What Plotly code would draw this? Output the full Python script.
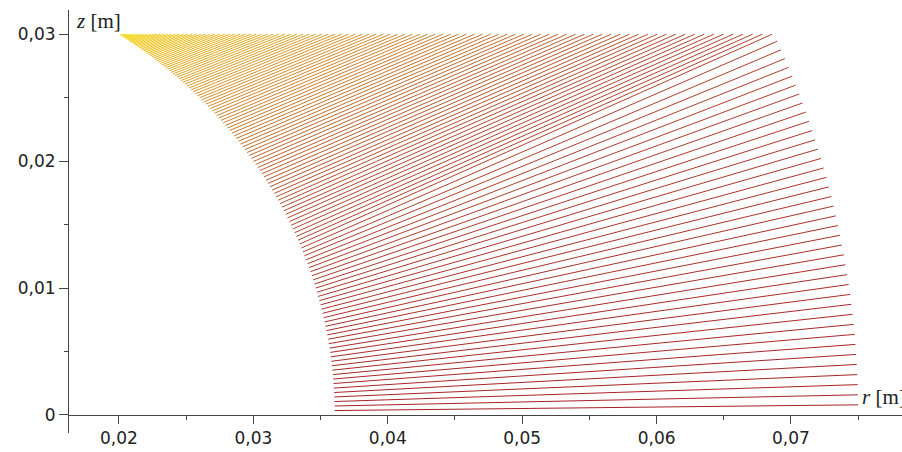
import plotly.graph_objects as go

# Line end points, in units of 0.01 mm (1e-5 m).
# Start points lie on the inner boundary, end points on the outer boundary.
R_START = [3605, 3605, 3604, 3603, 3601, 3599, 3597, 3594, 3592, 3588, 3585, 3581, 3576, 3572, 3567, 3561, 3556, 3550, 3544, 3537, 3530, 3523, 3515, 3508,
           3500, 3491, 3482, 3473, 3464, 3455, 3445, 3435, 3424, 3414, 3403, 3392, 3380, 3369, 3357, 3345, 3332, 3320, 3307, 3294, 3281, 3268, 3254, 3241,
           3227, 3212, 3198, 3184, 3169, 3155, 3140, 3125, 3110, 3095, 3079, 3064, 3048, 3033, 3017, 3001, 2985, 2969, 2953, 2937, 2921, 2905, 2889, 2873,
           2857, 2840, 2824, 2808, 2792, 2775, 2759, 2743, 2727, 2711, 2694, 2678, 2662, 2646, 2631, 2615, 2599, 2583, 2568, 2552, 2537, 2522, 2506, 2491,
           2476, 2461, 2447, 2432, 2418, 2403, 2389, 2375, 2361, 2348, 2334, 2321, 2308, 2294, 2282, 2269, 2256, 2244, 2232, 2220, 2208, 2197, 2186, 2175,
           2164, 2153, 2142, 2132, 2122, 2112, 2103, 2093, 2084, 2076, 2067, 2058, 2050, 2042, 2035, 2027, 2020, 2013, 2006]
Z_START = [35, 71, 106, 142, 177, 212, 248, 283, 318, 353, 388, 423, 458, 493, 527, 562, 597, 631, 665, 699, 733, 767, 801, 834,
           868, 901, 934, 967, 1000, 1032, 1065, 1097, 1129, 1161, 1192, 1223, 1255, 1285, 1316, 1347, 1377, 1407, 1436, 1466, 1495, 1524, 1553, 1581,
           1609, 1637, 1665, 1692, 1719, 1746, 1772, 1799, 1825, 1850, 1876, 1901, 1926, 1950, 1974, 1998, 2022, 2045, 2068, 2091, 2113, 2135, 2157, 2179,
           2200, 2221, 2242, 2262, 2282, 2302, 2321, 2340, 2359, 2378, 2396, 2414, 2431, 2449, 2466, 2483, 2499, 2515, 2531, 2547, 2562, 2577, 2592, 2607,
           2621, 2635, 2648, 2662, 2675, 2688, 2700, 2713, 2725, 2737, 2748, 2759, 2770, 2781, 2792, 2802, 2812, 2822, 2832, 2841, 2850, 2859, 2868, 2876,
           2884, 2892, 2900, 2908, 2915, 2922, 2929, 2936, 2942, 2948, 2954, 2960, 2966, 2971, 2977, 2982, 2987, 2991, 2996]
R_END = [7500, 7498, 7496, 7493, 7489, 7485, 7479, 7473, 7466, 7458, 7449, 7440, 7429, 7418, 7406, 7393, 7379, 7365, 7350, 7334, 7317, 7300, 7282, 7263,
         7243, 7223, 7202, 7180, 7157, 7134, 7110, 7086, 7061, 7035, 7009, 6982, 6954, 6926, 6898, 6860, 6787, 6714, 6642, 6569, 6497, 6426, 6354, 6283,
         6213, 6143, 6073, 6004, 5935, 5866, 5798, 5730, 5662, 5595, 5529, 5463, 5397, 5332, 5267, 5202, 5138, 5075, 5012, 4950, 4888, 4826, 4765, 4705,
         4645, 4585, 4526, 4468, 4410, 4352, 4295, 4239, 4183, 4128, 4074, 4019, 3966, 3913, 3861, 3809, 3758, 3707, 3657, 3608, 3559, 3510, 3463, 3416,
         3370, 3324, 3279, 3234, 3190, 3147, 3104, 3062, 3021, 2981, 2941, 2901, 2862, 2824, 2787, 2750, 2714, 2679, 2644, 2610, 2577, 2544, 2512, 2481,
         2450, 2420, 2391, 2362, 2335, 2307, 2281, 2255, 2230, 2206, 2182, 2159, 2137, 2115, 2094, 2074, 2054, 2036, 2017]
Z_END = [80, 159, 239, 318, 398, 477, 556, 635, 714, 793, 872, 950, 1028, 1106, 1184, 1262, 1339, 1416, 1493, 1569, 1646, 1721, 1797, 1872,
         1946, 2021, 2095, 2168, 2241, 2314, 2386, 2458, 2529, 2599, 2670, 2739, 2808, 2877, 2945] + [3000] * 100

x_ticks = [0.02, 0.03, 0.04, 0.05, 0.06, 0.07]
x_text = ["0,02", "0,03", "0,04", "0,05", "0,06", "0,07"]
y_ticks = [0, 0.01, 0.02, 0.03]
y_text = ["0", "0,01", "0,02", "0,03"]

UNIT = 1e-5
STOPS = [(0.0, (165, 32, 40)), (0.35, (178, 72, 45)), (0.65, (212, 150, 40)), (1.0, (250, 222, 8))]


def colour(t):
    for (t0, c0), (t1, c1) in zip(STOPS[:-1], STOPS[1:]):
        if t <= t1:
            f = (t - t0) / (t1 - t0)
            return "rgb(%d,%d,%d)" % tuple(int(round(a + (b - a) * f)) for a, b in zip(c0, c1))
    return "rgb(%d,%d,%d)" % STOPS[-1][1]


fig = go.Figure()
n = len(R_START)
for i in range(n):
    fig.add_trace(go.Scatter(
        x=[R_START[i] * UNIT, R_END[i] * UNIT],
        y=[Z_START[i] * UNIT, Z_END[i] * UNIT],
        mode="lines", line=dict(color=colour((i + 1) / (n + 1)), width=1),
        hoverinfo="skip", showlegend=False))

axcol = "#444444"
fig.update_layout(
    width=902, height=452,
    separators=", ",
    margin=dict(l=69, r=0, t=10, b=19),
    plot_bgcolor="white", paper_bgcolor="white",
    xaxis=dict(range=[0.016283, 0.07826], tickmode="array", tickvals=x_ticks, ticktext=x_text,
               showgrid=False, zeroline=False, showline=True, linecolor=axcol,
               linewidth=1, ticks="outside", ticklen=8, tickcolor=axcol,
               anchor="free", position=0.04255, automargin=False,
               tickfont=dict(family="DejaVu Sans", size=17, color="#222"),
               minor=dict(tickmode="linear", tick0=0, dtick=0.005, ticks="outside",
                          ticklen=4, tickcolor=axcol)),
    yaxis=dict(range=[-0.00142, 0.03191], tickmode="array", tickvals=y_ticks, ticktext=y_text,
               showgrid=False, zeroline=False, showline=True, linecolor=axcol,
               linewidth=1, ticks="outside", ticklen=9, tickcolor=axcol,
               automargin=False,
               tickfont=dict(family="DejaVu Sans", size=17, color="#222"),
               minor=dict(tickmode="linear", tick0=0, dtick=0.005, ticks="outside",
                          ticklen=4, tickcolor=axcol)),
)
fig.add_annotation(text="<i>z</i> [m]", x=(74 - 69) / 833, y=(433 - 21) / 423,
                   xref="paper", yref="paper", showarrow=False,
                   font=dict(family="Liberation Serif", size=21, color="#222"),
                   xanchor="left", yanchor="middle")
fig.add_annotation(text="<i>r</i> [m]", x=(860 - 69) / 833, y=(433 - 397) / 423,
                   xref="paper", yref="paper", showarrow=False,
                   font=dict(family="Liberation Serif", size=21, color="#222"),
                   xanchor="left", yanchor="middle")

fig.write_html("out.html", config={"displayModeBar": False},
               post_script="document.body.style.margin='0';document.body.style.padding='0';"
                           "document.body.style.overflow='hidden';")
